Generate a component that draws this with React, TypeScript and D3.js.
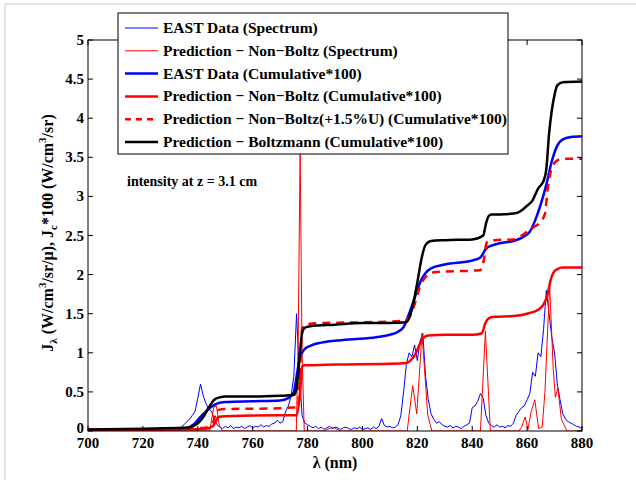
import React from "react";
import * as d3 from "d3";

// ---------- data ----------
const xTicks = [700, 720, 740, 760, 780, 800, 820, 840, 860, 880];
const yTicks = [0, 0.5, 1, 1.5, 2, 2.5, 3, 3.5, 4, 4.5, 5];
const yTickLabels = ["0", "0.5", "1", "1.5", "2", "2.5", "3", "3.5", "4", "4.5", "5"];

// EAST data spectrum (1 nm steps 700..880)
const eastSpecLambda = d3.range(700, 881, 1);
const eastSpecValues = [
  0.01, 0.02, 0.01, 0.02, 0.03, 0.01, 0.02, 0.01, 0.02, 0.02,
  0.01, 0.03, 0.02, 0.01, 0.02, 0.02, 0.01, 0.02, 0.03, 0.02,
  0.01, 0.02, 0.02, 0.03, 0.02, 0.01, 0.02, 0.03, 0.02, 0.02,
  0.03, 0.02, 0.03, 0.04, 0.05, 0.08, 0.12, 0.15, 0.2, 0.25,
  0.42, 0.6, 0.45, 0.35, 0.28, 0.25, 0.15, 0.08, 0.05, 0.03,
  0.06, 0.04, 0.07, 0.03, 0.05, 0.04, 0.06, 0.03, 0.05, 0.07,
  0.04, 0.06, 0.05, 0.08, 0.05, 0.07, 0.06, 0.09, 0.1, 0.14,
  0.1, 0.12, 0.25, 0.32, 0.45, 0.7, 1.5, 0.75, 0.2, 0.1,
  0.08, 0.06, 0.04, 0.06, 0.03, 0.05, 0.02, 0.04, 0.06, 0.03,
  0.05, 0.04, 0.02, 0.04, 0.05, 0.03, 0.02, 0.04, 0.03, 0.05,
  0.02, 0.03, 0.04, 0.02, 0.05, 0.03, 0.06, 0.16, 0.07, 0.05,
  0.06, 0.04, 0.05, 0.08, 0.2, 0.5, 0.85, 1.0, 0.95, 1.1,
  0.9, 1.15, 1.25, 0.7, 0.4, 0.22, 0.15, 0.1, 0.12, 0.08,
  0.06, 0.05, 0.07, 0.04, 0.06, 0.05, 0.03, 0.06, 0.08, 0.1,
  0.3, 0.32, 0.38, 0.48, 0.42, 0.2, 0.1, 0.07, 0.05, 0.08,
  0.05, 0.06, 0.04, 0.07, 0.06, 0.1, 0.2, 0.25, 0.3, 0.32,
  0.4, 0.48, 0.75, 0.7, 1.0, 0.95, 1.3, 1.8, 1.5, 1.2,
  1.0, 0.6, 0.4, 0.22, 0.15, 0.12, 0.1, 0.08, 0.06, 0.05,
  0.03,
];

// Prediction Non-Boltz spectrum
const predSpecLambda = [700, 744.3, 745.8, 746.8, 747.8, 749, 775.9, 776.6, 777.3, 778.0, 778.8, 786, 789, 792, 795,
  816.3, 818.3, 819.8, 821.7, 823.8, 825.3, 843.0, 844.8, 846.6, 847.5, 857, 858, 859.3, 860.3, 861.5, 862.8,
  864.2, 865.5, 866.5, 868.2, 869.5, 870.3, 871.2, 872.5, 874.5, 880];
const predSpecValues = [0, 0, 0.3, 0.32, 0.08, 0, 0, 1.2, 3.6, 1.0, 0, 0, 0.05, 0, 0,
  0, 0.58, 0.22, 1.25, 0.2, 0, 0, 1.28, 0, 0, 0, 0.05, 0.18, 0.02, 0.25, 0.4,
  0.03, 0.05, 0.5, 1.87, 0.8, 0.43, 0.55, 0.15, 0, 0];

// EAST data cumulative*100
const eastCumLambda = [700, 720, 735, 737, 739, 741, 743, 745, 747, 750, 760, 770, 773, 775, 776, 777, 778, 779, 781, 785,
  795, 805, 810, 813, 815, 817, 819, 821, 823, 825, 830, 840, 843, 845, 847, 850, 855, 858, 861, 863, 865, 867, 869, 871, 873, 876, 880];
const eastCumValues = [0.01, 0.02, 0.03, 0.05, 0.1, 0.18, 0.25, 0.31, 0.35, 0.37, 0.38, 0.39, 0.42, 0.5, 0.7, 0.9, 1.0, 1.05, 1.09, 1.13,
  1.17, 1.2, 1.23, 1.27, 1.33, 1.5, 1.7, 1.9, 2.02, 2.08, 2.13, 2.18, 2.22, 2.33, 2.37, 2.4, 2.43, 2.47, 2.55, 2.7, 2.9, 3.15, 3.45, 3.65, 3.73, 3.76, 3.77];

// Prediction Non-Boltz cumulative*100
const predCumLambda = [700, 735, 743, 745.5, 746.5, 747.5, 750, 770, 776, 777.3, 778, 779, 790, 810, 816, 818, 819.5, 821, 822.5, 824,
  830, 840, 843.5, 844.8, 846, 848, 855, 860, 864, 866, 867.5, 868.5, 869.5, 871, 873, 880];
const predCumValues = [0.01, 0.02, 0.03, 0.06, 0.12, 0.18, 0.19, 0.2, 0.2, 0.5, 0.82, 0.84, 0.85, 0.86, 0.87, 0.92, 1.0, 1.12, 1.2, 1.22,
  1.23, 1.23, 1.25, 1.38, 1.44, 1.46, 1.47, 1.5, 1.55, 1.62, 1.75, 1.92, 2.02, 2.07, 2.09, 2.09];

// Prediction Non-Boltz (+1.5%U) cumulative*100
const predUCumLambda = [700, 735, 742, 744, 745.5, 746.5, 747.5, 750, 770, 775, 776.5, 777.3, 778, 779, 785, 800, 815, 817, 819, 821,
  823, 824.5, 826, 830, 840, 843, 844.3, 845.2, 846, 848, 855, 858, 862, 865, 866.5, 867.5, 868.5, 869.5, 871, 873, 880];
const predUCumValues = [0.02, 0.03, 0.04, 0.06, 0.1, 0.22, 0.27, 0.28, 0.29, 0.3, 0.3, 0.8, 1.3, 1.36, 1.38, 1.39, 1.41, 1.45, 1.62, 1.85,
  1.97, 2.02, 2.03, 2.04, 2.05, 2.06, 2.2, 2.4, 2.43, 2.44, 2.45, 2.5, 2.6, 2.68, 2.78, 3.1, 3.3, 3.4, 3.46, 3.48, 3.48];

// Prediction Boltzmann cumulative*100
const boltzCumLambda = [700, 720, 735, 738, 740, 742, 744, 746, 748, 750, 760, 770, 775, 776, 777, 778, 779, 781, 790, 800,
  810, 816, 818, 820, 821.5, 823, 825, 830, 840, 844, 845, 846, 847, 850, 855, 857, 860, 862, 864, 866, 867, 868, 869, 870, 871, 873, 880];
const boltzCumValues = [0.02, 0.03, 0.04, 0.06, 0.1, 0.18, 0.3, 0.4, 0.43, 0.44, 0.44, 0.45, 0.46, 0.55, 0.9, 1.25, 1.32, 1.34, 1.36, 1.38,
  1.38, 1.39, 1.55, 1.9, 2.2, 2.38, 2.43, 2.44, 2.45, 2.5, 2.65, 2.75, 2.77, 2.77, 2.78, 2.8, 2.88, 2.95, 3.1, 3.2, 3.35, 3.8, 4.1, 4.3, 4.42, 4.46, 4.47];

const legendLabels = [
  "EAST Data (Spectrum)",
  "Prediction \u2212 Non\u2212Boltz (Spectrum)",
  "EAST Data (Cumulative*100)",
  "Prediction \u2212 Non\u2212Boltz (Cumulative*100)",
  "Prediction \u2212 Non\u2212Boltz(+1.5%U) (Cumulative*100)",
  "Prediction \u2212 Boltzmann (Cumulative*100)",
];

// ---------- layout ----------
const W = 636, H = 480;
const L = 88, R = 582, T = 40, B = 431;
const FONT = "'Liberation Serif', 'DejaVu Serif', serif";

const x = d3.scaleLinear().domain([700, 880]).range([L, R]);
const y = d3.scaleLinear().domain([0, 5]).range([B, T]);

function mkPath(lams: number[], vals: number[], smooth: boolean) {
  const pts = lams.map((l, i) => [l, vals[i]] as [number, number]);
  const g = d3.line<[number, number]>().x(d => x(d[0])).y(d => y(d[1]));
  if (smooth) g.curve(d3.curveMonotoneX);
  return g(pts) || "";
}

const series = [
  { d: mkPath(eastSpecLambda, eastSpecValues, false), color: "#0000ff", w: 1, dash: "" },
  { d: mkPath(predSpecLambda, predSpecValues, false), color: "#ff0000", w: 1, dash: "" },
  { d: mkPath(eastCumLambda, eastCumValues, true), color: "#0000ff", w: 2.5, dash: "" },
  { d: mkPath(predCumLambda, predCumValues, true), color: "#ff0000", w: 2.5, dash: "" },
  { d: mkPath(predUCumLambda, predUCumValues, true), color: "#ff0000", w: 2.5, dash: "8,6" },
  { d: mkPath(boltzCumLambda, boltzCumValues, true), color: "#000000", w: 2.5, dash: "" },
];

export default function App() {
  const legX = 118, legY = 13, legW = 390, legH = 141;
  const rowY = (i: number) => 28 + i * 22.8;
  const txt = { fontFamily: FONT, fontWeight: 700 } as React.CSSProperties;
  return (
    <svg width={W} height={H} style={{ position: "absolute", left: 0, top: 0, background: "#fff" }}>
      <rect x={0} y={0} width={W} height={H} fill="#fff" />
      <line x1={5} y1={4} x2={W} y2={4} stroke="#c8c8c8" strokeWidth={1} />
      <line x1={5} y1={4} x2={5} y2={H} stroke="#c8c8c8" strokeWidth={1} />
      <defs>
        <clipPath id="plot"><rect x={L} y={T} width={R - L} height={B - T} /></clipPath>
      </defs>
      <g clipPath="url(#plot)">
        {series.map((s, i) => (
          <path key={i} d={s.d} fill="none" stroke={s.color} strokeWidth={s.w}
            strokeDasharray={s.dash || undefined} strokeLinejoin="round" />
        ))}
      </g>
      {/* axes box */}
      <rect x={L} y={T} width={R - L} height={B - T} fill="none" stroke="#000" strokeWidth={1} />
      {xTicks.map((t) => (
        <g key={"x" + t}>
          <line x1={x(t)} x2={x(t)} y1={B} y2={B - 5} stroke="#000" />
          <line x1={x(t)} x2={x(t)} y1={T} y2={T + 5} stroke="#000" />
          <text x={x(t)} y={B + 17} textAnchor="middle" fontSize={15} style={txt}>{t}</text>
        </g>
      ))}
      {yTicks.map((t, i) => (
        <g key={"y" + t}>
          <line x1={L} x2={L + 5} y1={y(t)} y2={y(t)} stroke="#000" />
          <line x1={R} x2={R - 5} y1={y(t)} y2={y(t)} stroke="#000" />
          <text x={L - 4} y={y(t) + (t === 0 ? 2 : 5)} textAnchor="end" fontSize={15} style={txt}>{yTickLabels[i]}</text>
        </g>
      ))}
      <text x={(L + R) / 2} y={468} textAnchor="middle" fontSize={16} style={txt}>{"\u03bb (nm)"}</text>
      <text transform={`translate(53,${233}) rotate(-90)`} textAnchor="middle" fontSize={16} style={txt}>
        <tspan>J</tspan>
        <tspan fontSize={11} dy={4}>{"\u03bb"}</tspan>
        <tspan dy={-4}>{" (W/cm"}</tspan>
        <tspan fontSize={11} dy={-7}>3</tspan>
        <tspan dy={7}>{"/sr/\u03bc),  J"}</tspan>
        <tspan fontSize={11} dy={4}>c</tspan>
        <tspan dy={-4}>{"*100 (W/cm"}</tspan>
        <tspan fontSize={11} dy={-7}>3</tspan>
        <tspan dy={7}>{"/sr)"}</tspan>
      </text>
      <text x={127} y={186} fontSize={14} style={txt}>intensity at z = 3.1 cm</text>
      {/* legend */}
      <rect x={legX} y={legY} width={legW} height={legH} fill="#fff" stroke="#000" strokeWidth={1} />
      {legendLabels.map((lab, i) => (
        <g key={lab}>
          <line x1={125} x2={158} y1={rowY(i)} y2={rowY(i)} stroke={series[i].color}
            strokeWidth={series[i].w} strokeDasharray={series[i].dash ? "6,5" : undefined} />
          <text x={163} y={rowY(i) + 5} fontSize={15.5} style={txt}>{lab}</text>
        </g>
      ))}
    </svg>
  );
}
